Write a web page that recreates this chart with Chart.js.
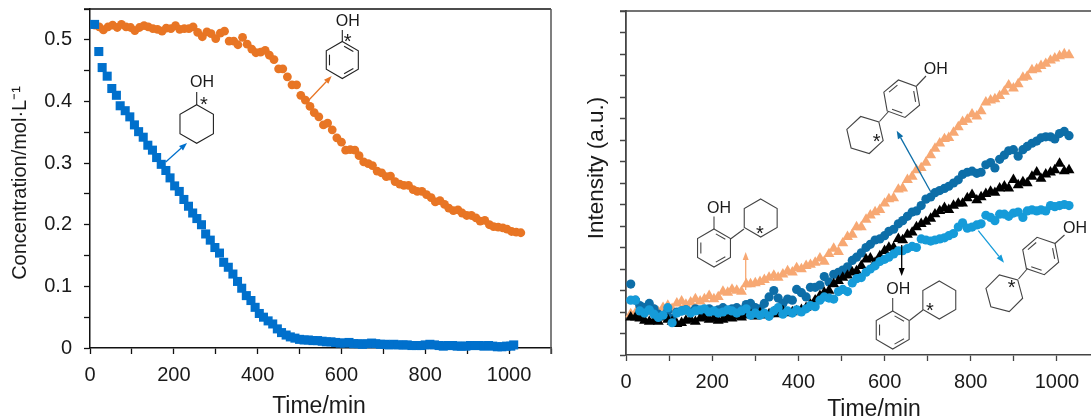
<!DOCTYPE html>
<html>
<head>
<meta charset="utf-8">
<title>Concentration and intensity over time</title>
<script src="https://cdn.jsdelivr.net/npm/chart.js@4"></script>
<style>
  html, body { margin: 0; padding: 0; background: #fff; overflow: hidden; }
  canvas { position: absolute; top: 0; }
  #leftChart { left: 0; }
  #rightChart { left: 570px; }
</style>
</head>
<body>
<canvas id="leftChart" width="560" height="420"></canvas>
<canvas id="rightChart" width="521" height="420"></canvas>
<script>
// left panel
var cycloTime = [11,21,29,41,52,63,72,84,95,106,116,127,138,149,159,170,181,191,202,213,224,235,245,255,266,276,287,298,309,319,330,341,352,362,373,384,394,404,414,425,436,447,457,468,478,489,
  500,511,521,532,543,554,564,575,586,597,607,618,629,640,650,661,672,682,693,704,714,725,736,747,757,768,779,790,800,811,822,833,843,854,865,876,886,897,908,918,929,940,951,961,972,983,994,1004,1011];
var cycloConc = [.525,.481,.455,.441,.421,.41,.393,.385,.375,.362,.351,.342,.329,.321,.309,.298,.288,.276,.263,.254,.241,.23,.219,.21,.2,.185,.175,.163,.154,.139,.131,.12,.108,.097,.085,.077,.066,.056,.05,.044,.039,.031,.025,.021,.018,.016,
  .014,.013,.013,.012,.012,.011,.01,.01,.009,.008,.008,.009,.007,.007,.006,.007,.008,.007,.006,.006,.005,.006,.005,.005,.005,.004,.004,.004,.005,.006,.005,.004,.003,.004,.004,.003,.003,.003,.004,.004,.004,.003,.004,.003,.002,.002,.003,.003,.005];

// same sampling for the phenol run and all four product traces
var sampleTime = [11,22,32,43,54,65,75,86,97,107,
  118,129,139,150,161,172,182,193,204,214,
  225,236,246,257,268,279,289,300,311,321,
  332,343,353,364,375,386,396,407,418,428,
  439,450,460,471,482,493,503,514,525,535,
  546,557,567,578,589,600,610,621,632,642,
  653,664,674,685,696,707,717,728,739,749,
  760,771,781,792,803,814,824,835,846,856,
  867,878,888,899,910,921,931,942,953,963,
  974,985,995,1006,1017,1028];
var phenolConc = [.524,.521,.516,.521,.524,.520,.525,.521,.520,.515,
  .520,.523,.521,.518,.517,.514,.519,.518,.523,.517,
  .518,.518,.521,.512,.505,.513,.510,.502,.511,.514,
  .498,.498,.492,.504,.493,.485,.479,.480,.483,.475,
  .468,.453,.453,.440,.427,.427,.410,.402,.392,.382,
  .375,.362,.365,.354,.341,.334,.321,.322,.321,.312,
  .302,.299,.296,.287,.284,.278,.279,.270,.266,.264,
  .264,.257,.254,.254,.249,.244,.237,.239,.233,.227,
  .223,.224,.219,.215,.215,.211,.206,.207,.200,.197,
  .196,.195,.193,.189,.188,.187];

// right panel, arbitrary units, axis has 16 unlabelled divisions
var orthoPeach = [1.9,1.95,2.0,2.05,2.0,2.1,2.0,2.2,2.3,2.15,
  2.4,2.5,2.35,2.45,2.6,2.5,2.6,2.75,2.6,2.7,
  2.95,2.9,3.05,3.0,2.95,3.3,3.3,3.35,3.4,3.5,
  3.6,3.7,3.6,3.75,3.9,3.85,4.05,4.0,4.15,4.2,
  4.3,4.5,4.35,4.7,4.95,4.8,5.2,5.5,5.6,5.95,
  5.95,6.3,6.5,6.65,6.75,7.05,7.25,7.3,7.7,7.75,
  8.15,8.3,8.6,8.7,8.95,9.3,9.6,9.85,10.05,10.1,
  10.35,10.6,10.85,10.95,11.2,11.1,11.35,11.75,11.85,11.9,
  12.05,12.25,12.55,12.4,12.6,12.9,12.95,13.25,13.3,13.45,
  13.55,13.7,13.8,13.9,14.0,13.95];
var paraDark = [3.3,2.55,2.3,2.2,2.4,2.15,1.9,1.85,2.05,1.7,
  2.0,2.05,2.1,2.0,2.15,2.05,2.1,2.15,2.0,2.1,
  2.2,2.0,2.15,2.2,2.1,2.35,2.4,2.2,2.15,2.4,
  2.7,3.0,2.65,2.4,2.6,2.55,3.05,2.9,2.7,3.15,
  3.15,3.25,3.65,3.4,3.75,3.85,3.95,4.1,4.4,4.55,
  4.75,5.0,5.15,5.35,5.4,5.55,5.75,5.85,6.1,6.25,
  6.45,6.65,6.7,6.95,7.25,7.35,7.55,7.65,7.75,7.85,
  8.0,8.15,8.4,8.5,8.55,8.45,8.5,8.85,8.95,8.7,
  9.1,9.3,9.5,9.55,9.25,9.55,9.7,9.85,9.95,10.1,
  10.15,10.15,10.05,10.3,10.4,10.2];
var orthoBlack = [1.75,1.75,1.7,1.6,1.55,1.6,1.55,1.75,1.65,1.55,
  1.45,1.5,1.6,1.65,1.55,1.7,1.75,1.65,1.7,1.6,
  1.65,1.75,1.7,1.8,1.75,1.85,1.9,1.8,1.95,1.85,
  1.9,2.0,1.9,2.05,1.95,2.0,2.05,2.1,2.2,2.35,
  2.55,2.75,2.9,3.0,3.3,3.45,3.6,3.7,3.85,3.9,
  4.15,4.45,4.5,4.3,4.6,4.85,5.0,5.0,5.4,5.35,
  5.6,5.7,5.95,6.1,6.2,6.35,6.55,6.7,6.85,6.75,
  6.95,7.05,7.05,7.3,7.45,7.2,7.35,7.5,7.6,7.55,
  7.75,7.85,7.75,8.15,7.9,8.05,8.0,8.3,8.5,8.2,
  8.4,8.5,8.6,8.9,8.55,8.6];
var paraLight = [2.55,2.55,2.05,1.95,2.1,1.9,1.75,1.85,2.2,1.5,
  1.95,2.05,2.1,1.95,2.05,2.1,2.15,2.0,2.05,1.95,
  2.0,2.1,2.05,1.95,2.05,2.15,1.85,1.95,1.85,1.95,
  1.8,2.05,2.2,1.9,2.05,1.95,2.1,2.0,2.15,2.3,
  2.25,2.55,2.7,2.65,2.6,2.95,3.05,2.95,3.35,3.55,
  3.6,3.85,4.0,4.15,4.35,4.45,4.55,4.7,4.85,4.85,
  4.95,5.05,5.0,5.4,5.35,5.3,5.35,5.4,5.45,5.55,
  5.65,5.95,6.15,5.9,5.95,6.05,6.1,6.5,6.4,6.25,
  6.55,6.55,6.45,6.6,6.65,6.4,6.7,6.75,6.7,6.75,
  6.7,6.95,6.9,6.95,7.0,6.95];

var FONT = '"Liberation Sans", Arial, sans-serif';
var INK = '#1a1a1a';

function pairs(xs, ys) {
  return xs.map(function(x, i) { return { x: x, y: ys[i] }; });
}

// hexagon, rot = angle of first vertex, inner = sides with a double bond
function ring(ctx, cx, cy, r, rot, inner) {
  var pts = [];
  for (var i = 0; i < 6; i++) {
    var a = (rot + i * 60) * Math.PI / 180;
    pts.push([cx + r * Math.cos(a), cy + r * Math.sin(a)]);
  }
  ctx.beginPath();
  pts.forEach(function(p, i) { i ? ctx.lineTo(p[0], p[1]) : ctx.moveTo(p[0], p[1]); });
  ctx.closePath();
  ctx.stroke();
  (inner || []).forEach(function(s) {
    var p = pts[s], q = pts[(s + 1) % 6];
    var k = 0.8, t = 0.14;
    var ax = cx + (p[0] - cx) * k, ay = cy + (p[1] - cy) * k;
    var bx = cx + (q[0] - cx) * k, by = cy + (q[1] - cy) * k;
    ctx.beginPath();
    ctx.moveTo(ax + (bx - ax) * t, ay + (by - ay) * t);
    ctx.lineTo(bx - (bx - ax) * t, by - (by - ay) * t);
    ctx.stroke();
  });
}

function bond(ctx, x1, y1, x2, y2) {
  ctx.beginPath();
  ctx.moveTo(x1, y1);
  ctx.lineTo(x2, y2);
  ctx.stroke();
}

function arrow(ctx, a) {
  var ang = Math.atan2(a[3] - a[1], a[2] - a[0]);
  var len = 8, wid = 3;
  var bx = a[2] - len * Math.cos(ang), by = a[3] - len * Math.sin(ang);
  ctx.strokeStyle = a[4];
  ctx.fillStyle = a[4];
  ctx.lineWidth = 1.3;
  bond(ctx, a[0], a[1], bx, by);
  ctx.beginPath();
  ctx.moveTo(a[2], a[3]);
  ctx.lineTo(bx - wid * Math.sin(ang), by + wid * Math.cos(ang));
  ctx.lineTo(bx + wid * Math.sin(ang), by - wid * Math.cos(ang));
  ctx.closePath();
  ctx.fill();
}

function text(ctx, str, x, y, font, rot) {
  ctx.save();
  ctx.translate(x, y);
  if (rot) ctx.rotate(rot);
  ctx.font = font;
  ctx.fillStyle = INK;
  ctx.textAlign = 'center';
  ctx.textBaseline = 'middle';
  ctx.fillText(str, 0, 0);
  ctx.restore();
}

// frame lines, axis titles and the molecule sketches. Coordinates are page pixels
var sketchPlugin = {
  id: 'sketch',
  afterDatasetsDraw: function(chart, args, o) {
    var ctx = chart.ctx, area = chart.chartArea;
    ctx.save();
    ctx.strokeStyle = o.frameColor;
    ctx.lineWidth = o.frameWidth;
    bond(ctx, area.left - 6, area.top, area.right, area.top);
    if (o.rightLine) {
      ctx.strokeStyle = '#555';
      bond(ctx, area.right, area.top, area.right, area.bottom + 6);
    }
    ctx.translate(-o.pageLeft, 0);
    o.titles.forEach(function(t) {
      text(ctx, t[0], t[1], t[2], t[4] + 'px ' + FONT, t[3]);
    });
    ctx.strokeStyle = o.molColor;
    ctx.lineWidth = 1.1;
    o.rings.forEach(function(r) { ring(ctx, r[0], r[1], r[2], r[3], r[4]); });
    o.bonds.forEach(function(b) { bond(ctx, b[0], b[1], b[2], b[3]); });
    o.oh.forEach(function(p) { text(ctx, 'OH', p[0], p[1], '16px ' + FONT); });
    o.stars.forEach(function(p) { text(ctx, '*', p[0], p[1] + 3, '20px ' + FONT); });
    o.arrows.forEach(function(a) { arrow(ctx, a); });
    ctx.restore();
  }
};

// lock the axis band so the plot area lands on the same pixels as the source
function fixWidth(w) {
  return function(scale) {
    scale.width = w;
    scale.paddingTop = scale.paddingBottom = 0;
  };
}
function fixHeight(h) {
  return function(scale) {
    scale.height = h;
    scale.paddingLeft = scale.paddingRight = 0;
  };
}

var AROMATIC = [0, 2, 4];

new Chart(document.getElementById('leftChart'), {
  type: 'scatter',
  plugins: [sketchPlugin],
  data: {
    datasets: [
      { label: 'Cyclohexanol', data: pairs(cycloTime, cycloConc), pointStyle: 'rect', pointRadius: 6.4,
        backgroundColor: '#0070cc', borderWidth: 0, clip: false },
      { label: 'Phenol', data: pairs(sampleTime, phenolConc), pointStyle: 'circle', pointRadius: 4.4,
        backgroundColor: '#e87524', borderWidth: 0, clip: false }
    ]
  },
  options: {
    responsive: false,
    animation: false,
    layout: { autoPadding: false, padding: { top: 9, right: 9, left: 0, bottom: 0 } },
    plugins: {
      legend: { display: false },
      tooltip: { enabled: false },
      sketch: {
        pageLeft: 0, frameColor: '#111', frameWidth: 1.5, rightLine: true, molColor: '#222',
        titles: [
          ['Concentration/mol·L⁻¹', 20, 183, -Math.PI / 2, 20],
          ['Time/min', 319, 407, 0, 23]
        ],
        rings: [[196.7, 124, 19.3, -90], [342.3, 60, 18.5, -90, AROMATIC]],
        bonds: [[196.7, 105, 196.7, 92], [342.3, 41.5, 342.3, 30]],
        oh: [[202, 83], [347.7, 22]],
        stars: [[204, 102], [347.7, 39]],
        arrows: [[165.7, 162, 187, 143, '#0070cc'], [308, 101, 331.7, 76, '#e87524']]
      }
    },
    scales: {
      x: {
        type: 'linear', min: 0, max: 1100,
        afterFit: fixHeight(72),
        border: { color: '#111', width: 1.5 },
        grid: { drawOnChartArea: false, tickLength: 6, tickColor: '#111', tickWidth: 1.3 },
        ticks: {
          stepSize: 100, maxRotation: 0, autoSkip: false, color: INK, padding: 9,
          font: { family: FONT, size: 20 },
          callback: function(v) { return v % 200 === 0 && v <= 1000 ? String(v) : ''; }
        }
      },
      y: {
        type: 'linear', min: 0, max: 0.55,
        afterFit: fixWidth(90),
        border: { color: '#111', width: 1.5 },
        grid: { drawOnChartArea: false, tickLength: 6, tickColor: '#111', tickWidth: 1.3 },
        ticks: {
          stepSize: 0.05, autoSkip: false, color: INK, padding: 12,
          font: { family: FONT, size: 20 },
          callback: function(v) {
            var n = Math.round(v * 100);
            if (n % 10 !== 0) return '';
            return n === 0 ? '0' : (n / 100).toFixed(1);
          }
        }
      }
    }
  }
});

new Chart(document.getElementById('rightChart'), {
  type: 'scatter',
  plugins: [sketchPlugin],
  data: {
    datasets: [
      { label: '4-cyclohexylphenol, light', data: pairs(sampleTime, paraLight), pointStyle: 'circle', pointRadius: 4.6,
        backgroundColor: '#159bd9', borderWidth: 0, clip: false },
      { label: '2-cyclohexylphenol', data: pairs(sampleTime, orthoBlack), pointStyle: 'triangle', pointRadius: 6.3,
        backgroundColor: '#000', borderWidth: 0, clip: false },
      { label: '4-cyclohexylphenol, dark', data: pairs(sampleTime, paraDark), pointStyle: 'circle', pointRadius: 4.6,
        backgroundColor: '#0d6ea8', borderWidth: 0, clip: false },
      { label: '2-cyclohexylphenol, peach', data: pairs(sampleTime, orthoPeach), pointStyle: 'triangle', pointRadius: 6.3,
        backgroundColor: '#f7a873', borderWidth: 0, clip: false }
    ]
  },
  options: {
    responsive: false,
    animation: false,
    layout: { autoPadding: false, padding: { top: 11, right: 0, left: 0, bottom: 0 } },
    plugins: {
      legend: { display: false },
      tooltip: { enabled: false },
      sketch: {
        pageLeft: 570, frameColor: '#444', frameWidth: 1.6, rightLine: false, molColor: '#444',
        titles: [
          ['Intensity (a.u.)', 597, 168, -Math.PI / 2, 22.5],
          ['Time/min', 874, 410, 0, 23]
        ],
        rings: [
          [714, 248, 19, -90, AROMATIC], [760.7, 218, 19, -90],
          [901.7, 98.7, 19, -40, AROMATIC], [865, 135, 19, -43],
          [892.7, 330, 19, -90, AROMATIC], [939.3, 300, 19, -90],
          [1040.7, 256, 19, -41, AROMATIC], [1004.3, 293.3, 19, -45]
        ],
        bonds: [
          [714, 229, 714, 216.5], [730.5, 239, 744, 229],
          [888.5, 111.5, 879.5, 121.5], [916.5, 86, 926, 76],
          [892.7, 311, 892.7, 298], [909.5, 320.5, 923, 310],
          [1055, 243.5, 1064.5, 235], [1027.5, 268.5, 1018.5, 279]
        ],
        oh: [[719, 209], [935.7, 70], [898.3, 290], [1075, 229]],
        stars: [[760, 231], [876.7, 139], [930, 308], [1011.7, 285]],
        arrows: [
          [745.7, 290, 745.7, 252, '#f7a873'],
          [930.7, 191.7, 896.7, 130.7, '#0d6ea8'],
          [901.7, 245, 901.7, 276, '#000'],
          [978.3, 230.7, 1004, 262.7, '#159bd9']
        ]
      }
    },
    scales: {
      x: {
        type: 'linear', min: 0, max: 1079,
        afterFit: fixHeight(65),
        border: { color: '#444', width: 1.6 },
        grid: { drawOnChartArea: false, tickLength: 6, tickColor: '#444', tickWidth: 1.3 },
        ticks: {
          stepSize: 100, includeBounds: false, maxRotation: 0, autoSkip: false, color: INK, padding: 9,
          font: { family: FONT, size: 20 },
          callback: function(v) { return v % 200 === 0 ? String(v) : ''; }
        }
      },
      y: {
        type: 'linear', min: 0, max: 16,
        afterFit: fixWidth(56),
        border: { color: '#444', width: 1.8 },
        grid: { drawOnChartArea: false, tickLength: 6, tickColor: '#444', tickWidth: 1.5 },
        ticks: { stepSize: 1, display: false }
      }
    }
  }
});
</script>
</body>
</html>
